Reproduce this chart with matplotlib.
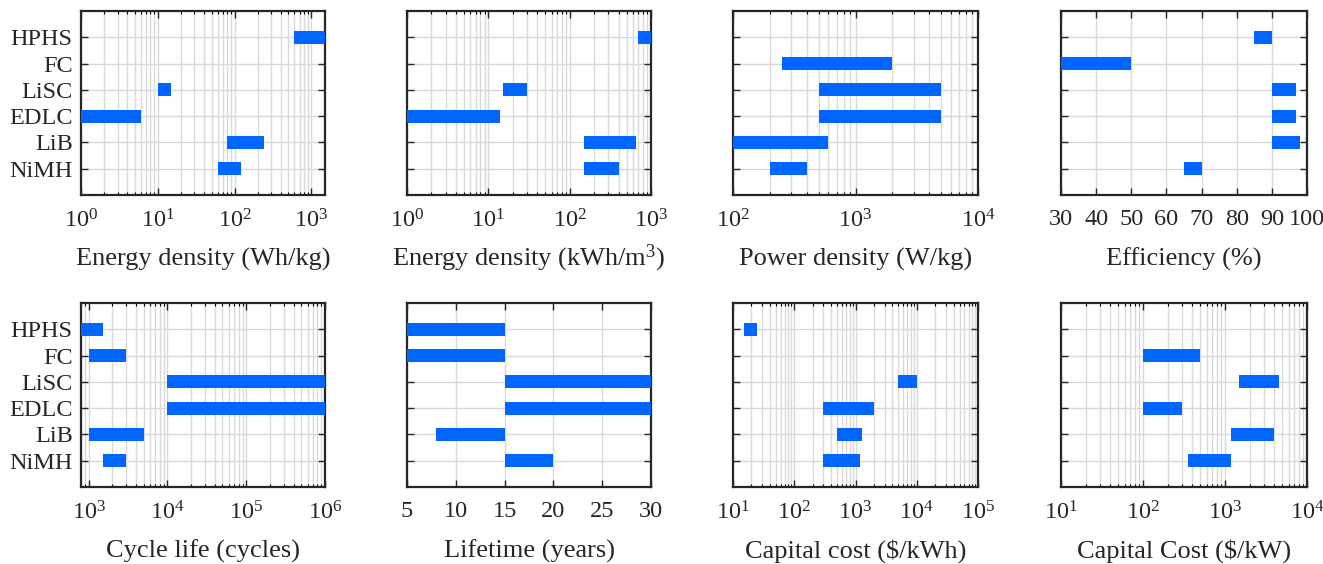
import numpy as np
import matplotlib
matplotlib.use("Agg")
import matplotlib.pyplot as plt
from matplotlib.ticker import LogLocator, NullFormatter, MultipleLocator

plt.rcParams['font.family'] = ['Liberation Serif', 'DejaVu Serif']
plt.rcParams['mathtext.fontset'] = 'custom'
plt.rcParams['mathtext.rm'] = 'Liberation Serif'
plt.rcParams['mathtext.it'] = 'Liberation Serif:italic'

# categories bottom -> top
categories = ['NiMH', 'LiB', 'EDLC', 'LiSC', 'FC', 'HPHS']
nan = np.nan

# Energy density (Wh/kg)
ed_wh_kg_lo = [60, 80, 1, 10, nan, 600]
ed_wh_kg_hi = [120, 240, 6, 15, nan, 1500]
# Energy density (kWh/m3)
ed_kwh_m3_lo = [150, 150, 1, 15, nan, 700]
ed_kwh_m3_hi = [400, 650, 14, 30, nan, 1000]
# Power density (W/kg)
pd_lo = [200, 100, 500, 500, 250, nan]
pd_hi = [400, 600, 5000, 5000, 2000, nan]
# Efficiency (%)
eff_lo = [65, 90, 90, 90, 30, 85]
eff_hi = [70, 98, 97, 97, 50, 90]
# Cycle life (cycles)
cyc_lo = [1500, 1000, 1e4, 1e4, 1000, 800]
cyc_hi = [3000, 5000, 1e6, 1e6, 3000, 1500]
# Lifetime (years)
life_lo = [15, 8, 15, 15, 5, 5]
life_hi = [20, 15, 30, 30, 15, 15]
# Capital cost ($/kWh)
cc_kwh_lo = [300, 500, 300, 5000, nan, 15]
cc_kwh_hi = [1200, 1300, 2000, 10000, nan, 25]
# Capital cost ($/kW)
cc_kw_lo = [350, 1200, 100, 1500, 100, nan]
cc_kw_hi = [1200, 4000, 300, 4500, 500, nan]

panels = [
    (ed_wh_kg_lo, ed_wh_kg_hi, 'log', (1, 1500), 'Energy density (Wh/kg)'),
    (ed_kwh_m3_lo, ed_kwh_m3_hi, 'log', (1, 1000), 'Energy density (kWh/m$^3$)'),
    (pd_lo, pd_hi, 'log', (100, 1e4), 'Power density (W/kg)'),
    (eff_lo, eff_hi, 'linear', (30, 100), 'Efficiency (%)'),
    (cyc_lo, cyc_hi, 'log', (800, 1e6), 'Cycle life (cycles)'),
    (life_lo, life_hi, 'linear', (5, 30), 'Lifetime (years)'),
    (cc_kwh_lo, cc_kwh_hi, 'log', (10, 1e5), 'Capital cost (\\$/kWh)'),
    (cc_kw_lo, cc_kw_hi, 'log', (10, 1e4), 'Capital Cost (\\$/kW)'),
]

W, H = 1323, 564
fig = plt.figure(figsize=(W / 100, H / 100), dpi=100)

col_left = [81, 407, 733, 1061]
col_w = [244, 244, 245, 246]
row_top = [11, 303]
ax_h = 184

bar_color = '#0066ff'
text_color = '#262626'
tick_fs = 17.5
label_fs = 19

for i, (lo, hi, scale, xlim, xlabel) in enumerate(panels):
    r, c = divmod(i, 4)
    left = col_left[c] / W
    bottom = 1 - (row_top[r] + ax_h) / H
    ax = fig.add_axes([left, bottom, col_w[c] / W, ax_h / H])
    ax.set_xscale(scale)
    lo_a = np.array(lo, dtype=float)
    hi_a = np.array(hi, dtype=float)
    ypos = np.arange(1, len(categories) + 1)
    m = ~np.isnan(lo_a)
    ax.barh(ypos[m], hi_a[m] - lo_a[m], left=lo_a[m], height=0.5,
            color=bar_color, zorder=3)
    ax.set_xlim(*xlim)
    ax.set_ylim(0, 7)
    ax.set_yticks(ypos)
    if c == 0:
        ax.set_yticklabels(categories)
    else:
        ax.set_yticklabels([])
    if scale == 'log':
        ax.xaxis.set_major_locator(LogLocator(base=10, numticks=20))
        ax.xaxis.set_minor_locator(LogLocator(base=10, subs=np.arange(2, 10), numticks=100))
        ax.xaxis.set_minor_formatter(NullFormatter())
    else:
        step = 10 if xlim[1] - xlim[0] > 40 else 5
        ax.xaxis.set_major_locator(MultipleLocator(step))
    ax.grid(True, which='major', color='#d9d9d9', linewidth=1.0, zorder=0)
    if scale == 'log':
        ax.grid(True, which='minor', axis='x', color='#d9d9d9', linewidth=1.0, zorder=0)
    ax.set_axisbelow(True)
    ax.tick_params(axis='both', which='major', direction='in', length=5,
                   width=1.0, top=True, right=True, labelsize=tick_fs,
                   colors='#262626', labelcolor=text_color)
    ax.tick_params(axis='x', which='major', pad=10)
    ax.tick_params(axis='y', which='major', pad=6)
    ax.tick_params(axis='x', which='minor', direction='in', length=2.5,
                   width=0.8, top=True, bottom=True)
    for s in ax.spines.values():
        s.set_linewidth(1.6)
        s.set_color('#262626')
    ax.set_xlabel(xlabel, fontsize=label_fs, color=text_color)
    ax.xaxis.set_label_coords(0.5, -0.383)
    ax.xaxis.label.set_va('baseline')

fig.savefig('out.png', dpi=100)
